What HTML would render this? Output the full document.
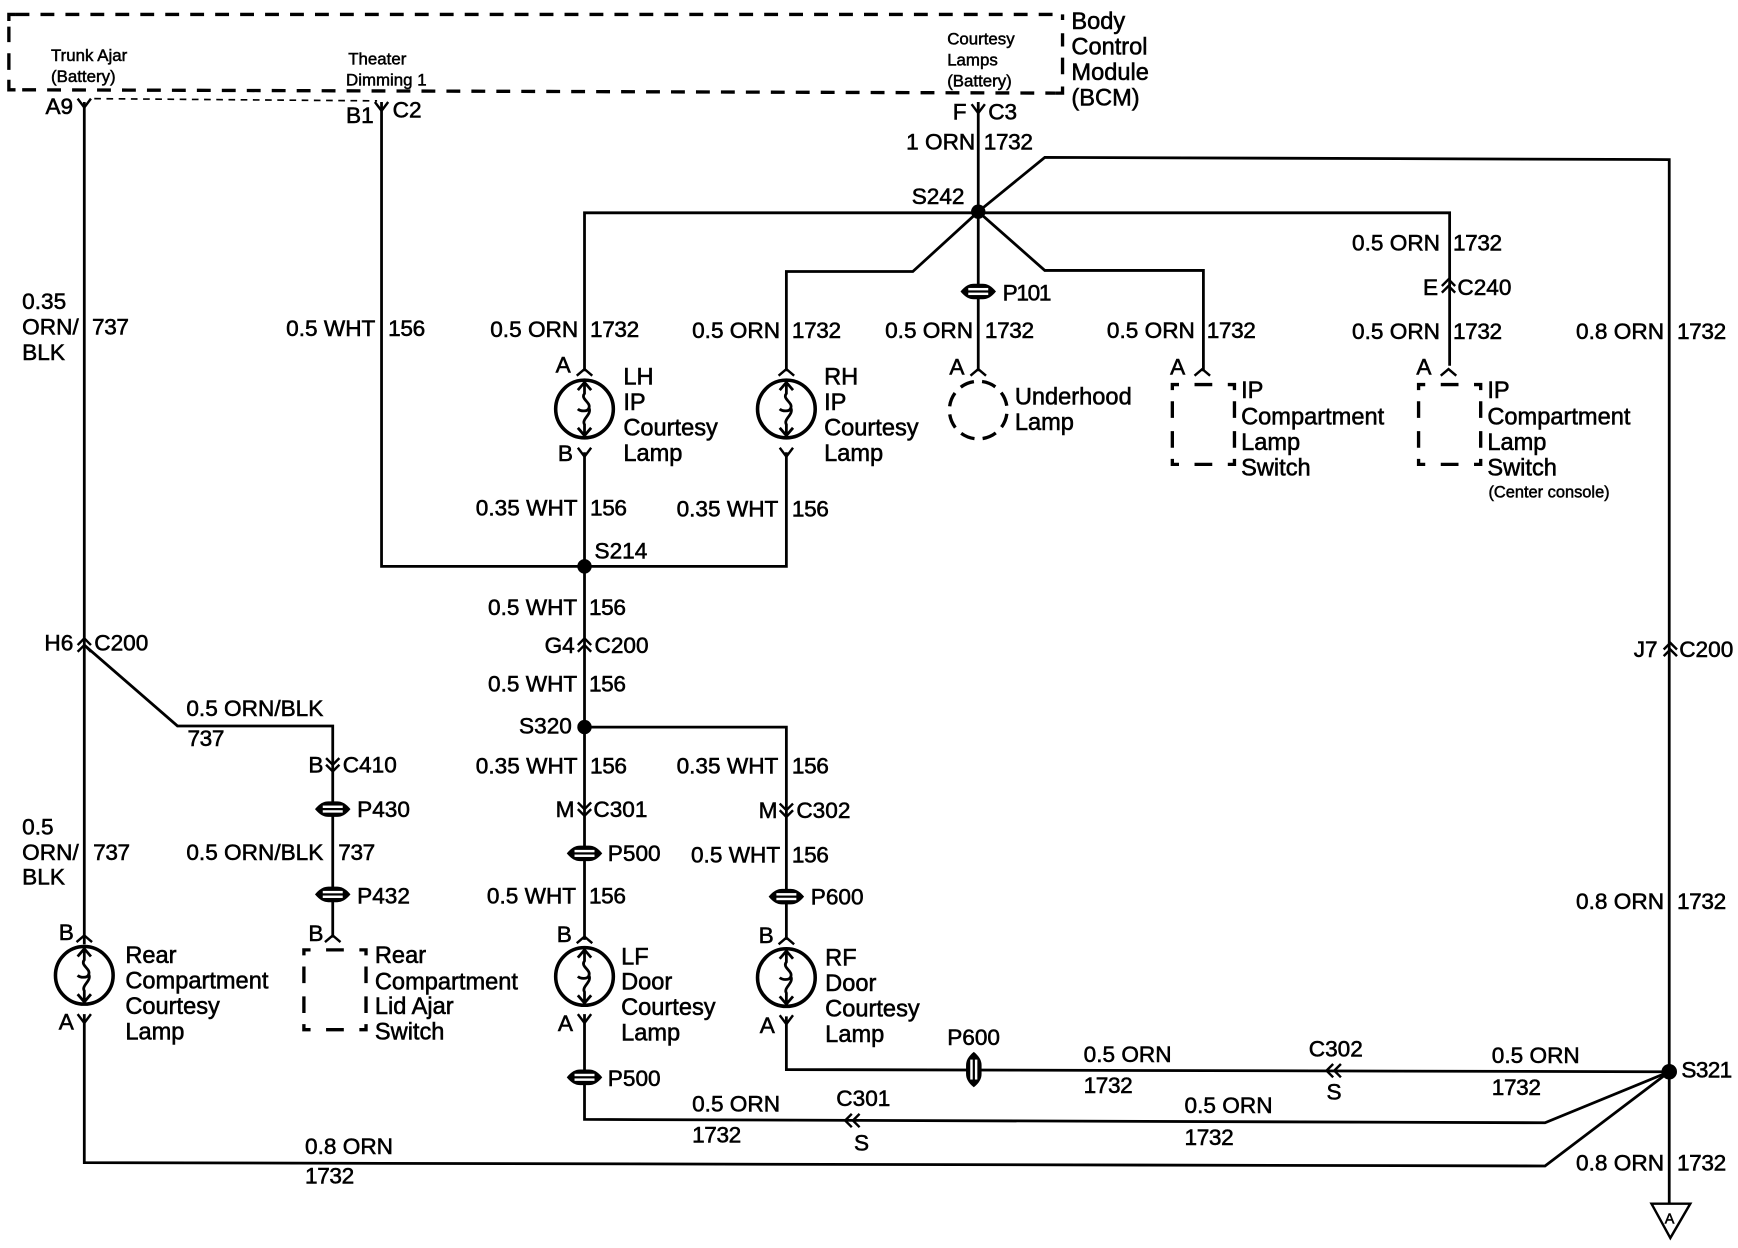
<!DOCTYPE html>
<html><head><meta charset="utf-8"><style>
html,body{margin:0;padding:0;background:#fff}
svg{display:block}
text{font-family:"Liberation Sans",sans-serif;font-size:20.4px;fill:#000;stroke:#000;stroke-width:.5}
.n{font-size:21.3px}
.k{letter-spacing:-.35px}
.s{font-size:15.2px;stroke-width:.45}
.x{font-size:14.8px;stroke-width:.45}
.w{fill:none;stroke:#000;stroke-width:2.5;stroke-linejoin:miter}
.d{fill:none;stroke:#000;stroke-width:3;stroke-dasharray:12.5 10}
.q{fill:none;stroke:#000;stroke-width:3}
.c{fill:none;stroke:#000;stroke-width:2.2}
</style></head><body>
<svg width="1738" height="1248" viewBox="0 0 1567 1126" preserveAspectRatio="none" xmlns="http://www.w3.org/2000/svg">
<defs>
<g id="lamp"><circle r="26" fill="#fff" stroke="#000" stroke-width="3.2"/>
<path class="w" d="M0,-25V-14C-4,-9 6,-6 4,-1C3,3 -4,2 -6,0M4,-1C7,5 -3,9 0,14V25M-6,-17L0,-24L6,-17M-6,17L0,24L6,17"/></g>
<g id="p"><path d="M-16,0C-12,-5 -8,-7 -4,-7H4C8,-7 12,-5 16,0C12,5 8,7 4,7H-4C-8,7 -12,5 -16,0Z"/><rect x="-9" y="-3.2" width="18" height="2.2" fill="#fff"/><rect x="-9" y="1" width="18" height="2.2" fill="#fff"/></g>
<path id="y" class="c" d="M-6,-8L0,0L6,-8"/>
<path id="u" class="c" d="M-7,6L0,0L7,6"/>
<path id="uu" class="c" d="M-6,5L0,-1L6,5M-6,11L0,5L6,11"/>
<path id="vv" class="c" d="M-6,-11L0,-5L6,-11M-6,-5L0,1L6,-5"/>
<path id="ll" class="c" d="M6,-6L0,0L6,6M13,-6L7,0L13,6"/>
<path id="r" class="q" d="M0,5V0H6M20,0H36M50,0H56V5M0,15V30M0,42V57M56,15V30M56,42V57M0,67V72H6M20,72H36M50,72H56V67"/>
</defs>

<path class="d" d="M14,13H958"/>
<path class="q" d="M8,19V13H14M8,24V38M8,48V63M8,72V81H14M958,18V13M958,30V42M958,52V67M958,78V84H952"/>
<path class="d" d="M20,81L952,84"/>
<path d="M85,89L340,91" fill="none" stroke="#000" stroke-width="1.5" stroke-dasharray="6 5"/>

<path class="w" d="M76,92V852M76,915V1049L1393,1052L1505,967"/>
<path class="w" d="M344,92V511H709V408"/>
<path class="w" d="M527,335V192H1307V330"/>
<path class="w" d="M882,92V335"/>
<path class="w" d="M882,191L942,142L1505,144V1086"/>
<path class="w" d="M882,191L823,245H709V335"/>
<path class="w" d="M882,191L942,244H1085V335"/>
<path class="w" d="M527,408V848"/>
<path class="w" d="M527,656H709V848"/>
<path class="w" d="M76,582L160,655H300V846"/>
<path class="w" d="M527,915V1010L1393,1013L1505,967"/>
<path class="w" d="M709,917V965L1505,967"/>

<circle cx="882" cy="191" r="6.5"/><circle cx="527" cy="511" r="6.5"/><circle cx="527" cy="656" r="6.5"/><circle cx="1505" cy="967" r="7"/>

<use href="#y" x="76" y="97"/><use href="#y" x="344" y="100"/><use href="#y" x="882" y="102"/>
<use href="#lamp" x="527" y="369"/><use href="#lamp" x="709" y="369"/><use href="#lamp" x="76" y="880"/><use href="#lamp" x="527" y="881"/><use href="#lamp" x="709" y="882"/>
<use href="#u" x="527" y="333"/><use href="#u" x="709" y="333"/><use href="#u" x="882" y="333"/><use href="#u" x="1084" y="333"/><use href="#u" x="1306" y="333"/>
<use href="#u" x="76" y="844"/><use href="#u" x="300" y="844"/><use href="#u" x="527" y="845"/><use href="#u" x="709" y="846"/>
<use href="#y" x="527" y="412"/><use href="#y" x="709" y="412"/>
<use href="#y" x="76" y="923"/><use href="#y" x="527" y="923"/><use href="#y" x="709" y="924"/>
<use href="#uu" x="76" y="577"/><use href="#uu" x="527" y="577"/><use href="#uu" x="1506" y="581"/><use href="#uu" x="1306" y="253"/>
<use href="#vv" x="300" y="695"/><use href="#vv" x="527" y="735"/><use href="#vv" x="709" y="736"/>
<use href="#ll" x="762" y="1011"/><use href="#ll" x="1196" y="966"/>
<use href="#p" x="882" y="263"/><use href="#p" x="300" y="730"/><use href="#p" x="300" y="807"/><use href="#p" x="527" y="770"/><use href="#p" x="709" y="809"/><use href="#p" x="527" y="972"/>
<use href="#p" transform="translate(878,965) rotate(90)"/>

<circle cx="882" cy="370" r="26" fill="#fff" stroke="#000" stroke-width="3" stroke-dasharray="13 7.4" stroke-dashoffset="-3.4"/>
<use href="#r" x="1057" y="347"/><use href="#r" x="1279" y="347"/><use href="#r" x="274" y="857"/>
<path d="M1489,1086H1524L1506,1117Z" fill="#fff" stroke="#000" stroke-width="2.2"/>
<text x="1501" y="1104" style="font-size:13px">A</text>

<text class="s" x="46" y="55">Trunk Ajar</text><text class="s" x="46" y="74">(Battery)</text>
<text class="s" x="314" y="58">Theater</text><text class="s" x="312" y="77">Dimming 1</text>
<text class="s" x="854" y="40">Courtesy</text><text class="s" x="854" y="59">Lamps</text><text class="s" x="854" y="78">(Battery)</text>
<text class="n" x="966" y="26">Body</text><text class="n" x="966" y="49">Control</text><text class="n" x="966" y="72">Module</text><text class="n" x="966" y="95">(BCM)</text>
<text x="41" y="103">A9</text><text x="312" y="111">B1</text><text x="354" y="106">C2</text><text x="859" y="108">F</text><text x="891" y="108">C3</text>
<text x="817" y="135">1 ORN</text><text class="k" x="887" y="135">1732</text>
<text x="822" y="184">S242</text>
<text x="20" y="279">0.35</text><text x="20" y="302">ORN/</text><text x="20" y="325">BLK</text><text class="k" x="83" y="302">737</text>
<text x="258" y="303">0.5 WHT</text><text class="k" x="350" y="303">156</text>
<text x="442" y="304">0.5 ORN</text><text class="k" x="532" y="304">1732</text>
<text x="624" y="305">0.5 ORN</text><text class="k" x="714" y="305">1732</text>
<text class="k" x="904" y="271" style="letter-spacing:-1.2px">P101</text>
<text x="798" y="305">0.5 ORN</text><text class="k" x="888" y="305">1732</text>
<text x="998" y="305">0.5 ORN</text><text class="k" x="1088" y="305">1732</text>
<text x="1219" y="226">0.5 ORN</text><text class="k" x="1310" y="226">1732</text>
<text x="1283" y="266">E</text><text x="1314" y="266">C240</text>
<text x="1219" y="306">0.5 ORN</text><text class="k" x="1310" y="306">1732</text>
<text x="1421" y="306">0.8 ORN</text><text class="k" x="1512" y="306">1732</text>
<text x="501" y="336">A</text><text x="856" y="338">A</text><text x="1055" y="338">A</text><text x="1277" y="338">A</text>
<text class="n" x="562" y="347">LH</text><text class="n" x="562" y="370">IP</text><text class="n" x="562" y="393">Courtesy</text><text class="n" x="562" y="416">Lamp</text>
<text x="503" y="416">B</text>
<text class="n" x="743" y="347">RH</text><text class="n" x="743" y="370">IP</text><text class="n" x="743" y="393">Courtesy</text><text class="n" x="743" y="416">Lamp</text>
<text class="n" x="915" y="365">Underhood</text><text class="n" x="915" y="388">Lamp</text>
<text class="n" x="1119" y="359">IP</text><text class="n" x="1119" y="383">Compartment</text><text class="n" x="1119" y="406">Lamp</text><text class="n" x="1119" y="429">Switch</text>
<text class="n" x="1341" y="359">IP</text><text class="n" x="1341" y="383">Compartment</text><text class="n" x="1341" y="406">Lamp</text><text class="n" x="1341" y="429">Switch</text>
<text class="x" x="1342" y="449">(Center console)</text>
<text x="429" y="465">0.35 WHT</text><text class="k" x="532" y="465">156</text><text x="610" y="466">0.35 WHT</text><text class="k" x="714" y="466">156</text>
<text x="536" y="504">S214</text>
<text x="440" y="555">0.5 WHT</text><text class="k" x="531" y="555">156</text>
<text x="491" y="589">G4</text><text x="536" y="589">C200</text>
<text x="440" y="624">0.5 WHT</text><text class="k" x="531" y="624">156</text>
<text x="468" y="662">S320</text>
<text x="429" y="698">0.35 WHT</text><text class="k" x="532" y="698">156</text><text x="610" y="698">0.35 WHT</text><text class="k" x="714" y="698">156</text>
<text x="501" y="737">M</text><text x="535" y="737">C301</text><text x="684" y="738">M</text><text x="718" y="738">C302</text>
<text x="548" y="777">P500</text><text x="623" y="778">0.5 WHT</text><text class="k" x="714" y="778">156</text>
<text x="731" y="816">P600</text><text x="439" y="815">0.5 WHT</text><text class="k" x="531" y="815">156</text>
<text x="40" y="587">H6</text><text x="85" y="587">C200</text>
<text x="1473" y="593">J7</text><text x="1514" y="593">C200</text>
<text x="168" y="646">0.5 ORN/BLK</text><text class="k" x="169" y="673">737</text>
<text x="278" y="697">B</text><text x="309" y="697">C410</text>
<text x="322" y="737">P430</text>
<text x="168" y="776">0.5 ORN/BLK</text><text class="k" x="305" y="776">737</text>
<text x="322" y="815">P432</text>
<text x="20" y="753">0.5</text><text x="20" y="776">ORN/</text><text x="20" y="798">BLK</text><text class="k" x="84" y="776">737</text>
<text x="53" y="848">B</text><text x="53" y="929">A</text>
<text class="n" x="113" y="869">Rear</text><text class="n" x="113" y="892">Compartment</text><text class="n" x="113" y="915">Courtesy</text><text class="n" x="113" y="938">Lamp</text>
<text x="278" y="849">B</text>
<text class="n" x="338" y="869">Rear</text><text class="n" x="338" y="893">Compartment</text><text class="n" x="338" y="915">Lid Ajar</text><text class="n" x="338" y="938">Switch</text>
<text x="502" y="850">B</text><text x="503" y="930">A</text>
<text class="n" x="560" y="870">LF</text><text class="n" x="560" y="893">Door</text><text class="n" x="560" y="916">Courtesy</text><text class="n" x="560" y="939">Lamp</text>
<text x="684" y="851">B</text><text x="685" y="932">A</text>
<text class="n" x="744" y="871">RF</text><text class="n" x="744" y="894">Door</text><text class="n" x="744" y="917">Courtesy</text><text class="n" x="744" y="940">Lamp</text>
<text x="548" y="980">P500</text>
<text x="854" y="943">P600</text>
<text x="977" y="958">0.5 ORN</text><text class="k" x="977" y="986">1732</text>
<text x="1180" y="953">C302</text><text x="1196" y="992">S</text>
<text x="1345" y="959">0.5 ORN</text><text class="k" x="1345" y="988">1732</text>
<text x="1516" y="972" style="letter-spacing:-.6px">S321</text>
<text x="624" y="1003">0.5 ORN</text><text class="k" x="624" y="1031">1732</text>
<text x="754" y="998">C301</text><text x="770" y="1038">S</text>
<text x="1068" y="1004">0.5 ORN</text><text class="k" x="1068" y="1033">1732</text>
<text x="275" y="1041">0.8 ORN</text><text class="k" x="275" y="1068">1732</text>
<text x="1421" y="820">0.8 ORN</text><text class="k" x="1512" y="820">1732</text>
<text x="1421" y="1056">0.8 ORN</text><text class="k" x="1512" y="1056">1732</text>
</svg>
</body></html>
